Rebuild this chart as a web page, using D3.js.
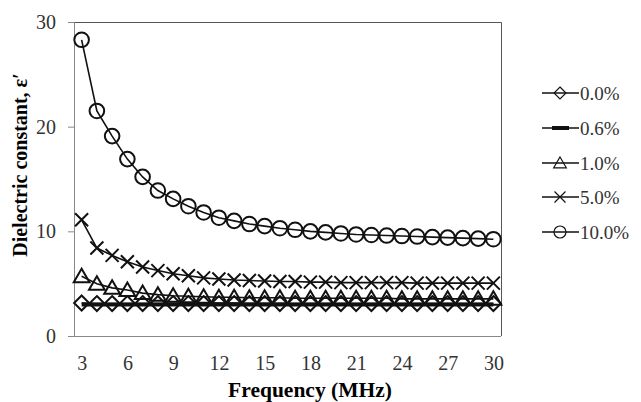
<!DOCTYPE html>
<html>
<head>
<meta charset="utf-8">
<script src="https://cdn.jsdelivr.net/npm/d3@7"></script>
<style>
    body { margin: 0; background: #fff; }
    svg text { font-family: "Liberation Serif", "Times New Roman", serif; }
</style>
</head>
<body>
<div id="chart"></div>
<script>
// frequencies (MHz) and dielectric constant per filler loading
const freqs = d3.range(3, 31);
const xTicks = [3, 6, 9, 12, 15, 18, 21, 24, 27, 30];
const yTicks = [0, 10, 20, 30];

const s00 = [3.15, 3.1, 3.1, 3.1, 3.1, 3.1, 3.1, 3.1, 3.1, 3.1, 3.1, 3.1, 3.1, 3.1,
    3.1, 3.1, 3.1, 3.1, 3.1, 3.1, 3.1, 3.1, 3.1, 3.1, 3.1, 3.1, 3.1, 3.1];
const s06 = [3.0, 3.0, 3.0, 3.0, 3.0, 3.0, 3.0, 3.0, 3.0, 3.0, 3.0, 3.0, 3.0, 3.0,
    3.0, 3.0, 3.0, 3.0, 3.0, 3.0, 3.0, 3.0, 3.0, 3.0, 3.0, 3.0, 3.0, 3.0];
const s10 = [5.7, 5.0, 4.6, 4.4, 4.1, 3.95, 3.85, 3.8, 3.75, 3.7, 3.7, 3.65, 3.65, 3.65,
    3.6, 3.6, 3.6, 3.6, 3.6, 3.6, 3.6, 3.55, 3.55, 3.55, 3.55, 3.55, 3.55, 3.55];
const s50 = [11.1, 8.4, 7.7, 7.1, 6.6, 6.25, 5.95, 5.75, 5.55, 5.45, 5.35, 5.3, 5.25, 5.2,
    5.2, 5.15, 5.15, 5.1, 5.1, 5.1, 5.1, 5.1, 5.05, 5.05, 5.05, 5.05, 5.05, 5.05];
const s100 = [28.3, 21.5, 19.1, 16.9, 15.2, 13.9, 13.1, 12.4, 11.8, 11.3, 11.0, 10.7, 10.5, 10.3,
    10.15, 10.0, 9.9, 9.8, 9.7, 9.65, 9.6, 9.55, 9.5, 9.45, 9.4, 9.35, 9.3, 9.25];

const seriesNames = ["0.0%", "0.6%", "1.0%", "5.0%", "10.0%"];
const seriesValues = [s00, s06, s10, s50, s100];
const seriesMarkers = ["diamond", "none", "triangle", "cross", "circle"];

const width = 641, height = 402;
const margin = {top: 22, right: 140, bottom: 66, left: 74};
const innerW = width - margin.left - margin.right;
const innerH = height - margin.top - margin.bottom;

const svg = d3.select("#chart").append("svg")
    .attr("width", width)
    .attr("height", height);

const g = svg.append("g")
    .attr("transform", "translate(" + margin.left + "," + margin.top + ")");

const xSc = d3.scalePoint().domain(freqs).range([0, innerW]).padding(0.5);
const ySc = d3.scaleLinear().domain([0, 30]).range([innerH, 0]);

// plot frame (top + right)
g.append("path")
    .attr("d", "M0,0.5H" + (innerW + 0.5) + "V" + innerH)
    .attr("fill", "none")
    .attr("stroke", "#555")
    .attr("stroke-width", 1);

// y axis
const yAxis = g.append("g")
    .call(d3.axisLeft(ySc).tickValues(yTicks).tickSize(6).tickPadding(12).tickFormat(d3.format("d")));
yAxis.select(".domain").attr("stroke", "#888");
yAxis.selectAll(".tick line").attr("stroke", "#888");
yAxis.selectAll("text").attr("font-size", 20).attr("fill", "#333").attr("font-family", "Liberation Serif");

// x axis (labels only)
const xAxis = g.append("g")
    .attr("transform", "translate(0," + innerH + ")")
    .call(d3.axisBottom(xSc).tickValues(xTicks).tickSize(0).tickPadding(20).tickSizeOuter(0));
xAxis.select(".domain").attr("stroke", "#888")
    .attr("d", "M-6,0.5H" + innerW);
xAxis.selectAll("text").attr("font-size", 20).attr("fill", "#333").attr("font-family", "Liberation Serif");

// axis titles
svg.append("text")
    .attr("x", 310)
    .attr("y", 397)
    .attr("text-anchor", "middle")
    .attr("font-size", 21.5)
    .attr("font-weight", "bold")
    .text("Frequency (MHz)");

svg.append("text")
    .attr("transform", "translate(27,165) rotate(-90)")
    .attr("text-anchor", "middle")
    .attr("font-size", 20)
    .attr("font-weight", "bold")
    .text("Dielectric constant, \u03b5\u2032");

function markerPath(type, s) {
    if (type === "diamond") return "M0," + (-s) + "L" + s + ",0L0," + s + "L" + (-s) + ",0Z";
    if (type === "triangle") return "M0," + (-s) + "L" + (s * 1.05) + "," + (s * 0.8) + "L" + (-s * 1.05) + "," + (s * 0.8) + "Z";
    if (type === "cross") return "M" + (-s) + "," + (-s) + "L" + s + "," + s + "M" + (-s) + "," + s + "L" + s + "," + (-s);
    return null;
}

const line = d3.line()
    .x((d, i) => xSc(freqs[i]))
    .y(d => ySc(d));

seriesValues.forEach((vals, k) => {
    const mk = seriesMarkers[k];
    const sg = g.append("g");
    sg.append("path")
        .datum(vals)
        .attr("fill", "none")
        .attr("stroke", "#111")
        .attr("stroke-width", mk === "none" ? 4 : 1.6)
        .attr("d", line);
    if (mk === "none") return;
    const pts = sg.selectAll(".pt").data(vals).enter();
    if (mk === "circle") {
        pts.append("circle")
            .attr("cx", (d, i) => xSc(freqs[i]))
            .attr("cy", d => ySc(d))
            .attr("r", 7.3)
            .attr("fill", "none")
            .attr("stroke", "#111")
            .attr("stroke-width", 2);
    } else {
        const size = mk === "cross" ? 6.5 : 7.5;
        pts.append("path")
            .attr("transform", (d, i) => "translate(" + xSc(freqs[i]) + "," + ySc(d) + ")")
            .attr("d", markerPath(mk, size))
            .attr("fill", "none")
            .attr("stroke", "#111")
            .attr("stroke-width", 2);
    }
});

// legend
const legendY = [93, 128, 163, 197, 232];
const legend = svg.append("g");
seriesNames.forEach((name, k) => {
    const mk = seriesMarkers[k];
    const lg = legend.append("g").attr("transform", "translate(542," + legendY[k] + ")");
    lg.append("line")
        .attr("x1", 0).attr("x2", 37)
        .attr("stroke", "#111")
        .attr("stroke-width", 1.5);
    if (mk === "none") {
        lg.append("line")
            .attr("x1", 10).attr("x2", 27)
            .attr("stroke", "#111")
            .attr("stroke-width", 4);
    } else if (mk === "circle") {
        lg.append("circle").attr("cx", 18).attr("r", 6)
            .attr("fill", "none").attr("stroke", "#111").attr("stroke-width", 1.2);
    } else {
        lg.append("path")
            .attr("transform", "translate(18,0)")
            .attr("d", markerPath(mk, mk === "cross" ? 5.5 : 6))
            .attr("fill", "none").attr("stroke", "#111").attr("stroke-width", 1.2);
    }
    lg.append("text")
        .attr("x", 38)
        .attr("dy", "0.35em")
        .attr("font-size", 19)
        .attr("fill", "#333")
        .text(name);
});
</script>
</body>
</html>
